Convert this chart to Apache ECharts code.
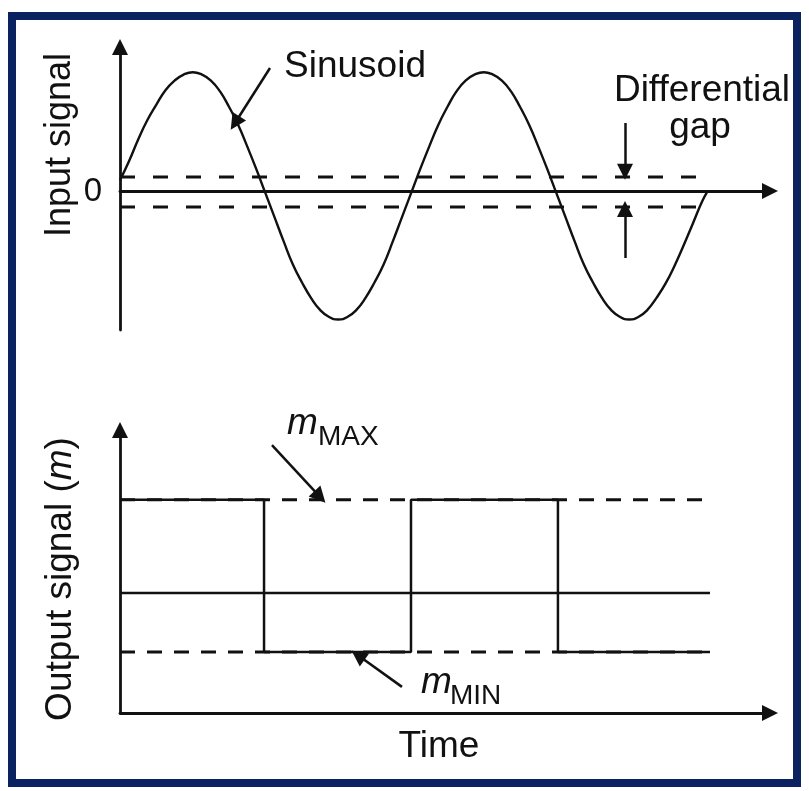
<!DOCTYPE html>
<html>
<head>
<meta charset="utf-8">
<style>html,body{margin:0;padding:0;background:#fff;}#c{width:809px;height:791px;}</style>
<script src="https://cdn.jsdelivr.net/npm/echarts@6/dist/echarts.min.js"></script>
</head>
<body>
<div id="c"></div>
<script>
// ---- data (top panel: input signal) ----
const sineTime = [
  0, 0.125, 0.25, 0.375, 0.5, 0.625, 0.75, 0.875,
  1, 1.125, 1.25, 1.375, 1.5, 1.625, 1.75, 1.875,
  2, 2.125, 2.25, 2.375, 2.5, 2.625, 2.75, 2.875,
  3, 3.125, 3.25, 3.375, 3.5, 3.625, 3.75, 3.875,
  4, 4.125, 4.25, 4.375, 4.5, 4.625, 4.75, 4.875,
  5, 5.125, 5.25, 5.375, 5.5, 5.625, 5.75, 5.875,
  6, 6.125, 6.25, 6.375, 6.5, 6.625, 6.75, 6.875,
  7, 7.125, 7.25, 7.375, 7.5, 7.625, 7.75, 7.875,
  8, 8.07];
const sineValue = [
  0.09, 0.25, 0.43, 0.59, 0.72, 0.84, 0.92, 0.97,
  0.99, 0.97, 0.92, 0.83, 0.70, 0.55, 0.37, 0.18,
  -0.02, -0.22, -0.42, -0.61, -0.76, -0.89, -0.99, -1.05,
  -1.07, -1.05, -0.99, -0.89, -0.76, -0.61, -0.42, -0.22,
  -0.02, 0.18, 0.37, 0.55, 0.70, 0.83, 0.92, 0.97,
  0.99, 0.97, 0.92, 0.83, 0.70, 0.55, 0.37, 0.18,
  -0.02, -0.22, -0.42, -0.61, -0.76, -0.89, -0.99, -1.05,
  -1.07, -1.05, -0.99, -0.89, -0.77, -0.62, -0.45, -0.27,
  -0.09, -0.01];
const gapUpper = 0.117;
const gapLower = -0.133;
const lineEnd = 8.11;
// ---- data (bottom panel: output signal) ----
const switchTimes = [1.98, 4.0, 6.02];
const mMaxLevel = 77.5;
const mMidLevel = 43.6;
const mMinLevel = 22.2;
// annotation arrows [fromX, fromY, toX, toY] in data units
const topArrows = [[2.062, 1.025, 1.581, 0.567], [6.942, 0.567, 6.942, 0.16], [6.942, -0.558, 6.942, -0.15]];
const bottomArrows = [[2.089, 97.4, 2.749, 78.6], [3.876, 9.5, 3.271, 21.0]];

const sinePts = sineTime.map((t, i) => [t, sineValue[i]]);
const sq = [[0, mMaxLevel]];
let lvl = mMaxLevel;
switchTimes.forEach(t => { sq.push([t, lvl]); lvl = (lvl === mMaxLevel) ? mMinLevel : mMaxLevel; sq.push([t, lvl]); });
sq.push([lineEnd, lvl]);

const FONT = "'Liberation Sans', Arial, Helvetica, sans-serif";
const BLACK = '#111';

function arrowML(list) {
  return {
    silent: true, animation: false,
    lineStyle: { color: BLACK, width: 2.5, type: 'solid' },
    label: { show: false },
    symbolSize: 16,
    data: list.map(a => [
      { coord: [a[0], a[1]], symbol: 'none' },
      { coord: [a[2], a[3]], symbol: 'triangle' }
    ])
  };
}
function axisCommon(extra) {
  return Object.assign({
    type: 'value',
    axisTick: { show: false }, axisLabel: { show: false }, splitLine: { show: false },
    axisLine: { show: true, onZero: true, symbol: ['none', 'triangle'], symbolSize: [16, 16], lineStyle: { color: BLACK, width: 2.8 } }
  }, extra);
}
const chart = echarts.init(document.getElementById('c'), null, { renderer: 'canvas' });
chart.setOption({
  animation: false,
  backgroundColor: '#fff',
  grid: [
    { left: 120, top: 47, width: 650, height: 283 },
    { left: 120, top: 430, width: 650, height: 283 }
  ],
  xAxis: [
    axisCommon({ gridIndex: 0, min: 0, max: 8.935 }),
    axisCommon({ gridIndex: 1, min: 0, max: 8.935 })
  ],
  yAxis: [
    axisCommon({ gridIndex: 0, min: -1.158, max: 1.2 }),
    axisCommon({ gridIndex: 1, min: 0, max: 102.9 })
  ],
  series: [
    { type: 'line', xAxisIndex: 0, yAxisIndex: 0, data: [[0, gapUpper], [lineEnd, gapUpper]], showSymbol: false, lineStyle: { color: BLACK, width: 3, type: [15, 18] }, z: 2 },
    { type: 'line', xAxisIndex: 0, yAxisIndex: 0, data: [[0, gapLower], [lineEnd, gapLower]], showSymbol: false, lineStyle: { color: BLACK, width: 3, type: [15, 18] }, z: 2 },
    { type: 'line', xAxisIndex: 0, yAxisIndex: 0, data: sinePts, smooth: true, showSymbol: false, lineStyle: { color: BLACK, width: 2.4 }, z: 3, markLine: arrowML(topArrows) },
    { type: 'line', xAxisIndex: 1, yAxisIndex: 1, data: [[0, mMaxLevel], [lineEnd, mMaxLevel]], showSymbol: false, lineStyle: { color: BLACK, width: 3, type: [15, 12] }, z: 2 },
    { type: 'line', xAxisIndex: 1, yAxisIndex: 1, data: [[0, mMinLevel], [lineEnd, mMinLevel]], showSymbol: false, lineStyle: { color: BLACK, width: 3, type: [15, 12] }, z: 2 },
    { type: 'line', xAxisIndex: 1, yAxisIndex: 1, data: [[0, mMidLevel], [lineEnd, mMidLevel]], showSymbol: false, lineStyle: { color: BLACK, width: 2.5 }, z: 2 },
    { type: 'line', xAxisIndex: 1, yAxisIndex: 1, data: sq, showSymbol: false, lineStyle: { color: BLACK, width: 2.5 }, z: 3, markLine: arrowML(bottomArrows) }
  ],
  graphic: [
    { type: 'rect', shape: { x: 12, y: 16, width: 785, height: 767 }, style: { fill: 'none', stroke: '#0b2260', lineWidth: 8 }, z: 10 },
    { type: 'text', x: 355, y: 67, style: { text: 'Sinusoid', font: '37px ' + FONT, fill: BLACK, align: 'center', verticalAlign: 'middle' } },
    { type: 'text', x: 702, y: 91, style: { text: 'Differential', font: '37px ' + FONT, fill: BLACK, align: 'center', verticalAlign: 'middle' } },
    { type: 'text', x: 700, y: 128, style: { text: 'gap', font: '37px ' + FONT, fill: BLACK, align: 'center', verticalAlign: 'middle' } },
    { type: 'text', x: 93, y: 192, style: { text: '0', font: '33px ' + FONT, fill: BLACK, align: 'center', verticalAlign: 'middle' } },
    { type: 'text', x: 439, y: 747, style: { text: 'Time', font: '37px ' + FONT, fill: BLACK, align: 'center', verticalAlign: 'middle' } },
    { type: 'text', x: 60, y: 145, rotation: Math.PI / 2, style: { text: 'Input signal', font: '36px ' + FONT, fill: BLACK, align: 'center', verticalAlign: 'middle' } },
    { type: 'text', x: 61, y: 579, rotation: Math.PI / 2, style: {
        text: '{a|Output signal (}{i|m}{a|)}', fill: BLACK, align: 'center', verticalAlign: 'middle',
        rich: { a: { font: '37px ' + FONT, fill: BLACK }, i: { font: 'italic 37px ' + FONT, fill: BLACK } } } },
    { type: 'text', x: 287, y: 424, style: { text: 'm', font: 'italic 37px ' + FONT, fill: BLACK, align: 'left', verticalAlign: 'middle' } },
    { type: 'text', x: 318, y: 437, style: { text: 'MAX', font: '28px ' + FONT, fill: BLACK, align: 'left', verticalAlign: 'middle' } },
    { type: 'text', x: 421, y: 683, style: { text: 'm', font: 'italic 37px ' + FONT, fill: BLACK, align: 'left', verticalAlign: 'middle' } },
    { type: 'text', x: 450, y: 696, style: { text: 'MIN', font: '28px ' + FONT, fill: BLACK, align: 'left', verticalAlign: 'middle' } }
  ]
});
</script>
</body>
</html>
